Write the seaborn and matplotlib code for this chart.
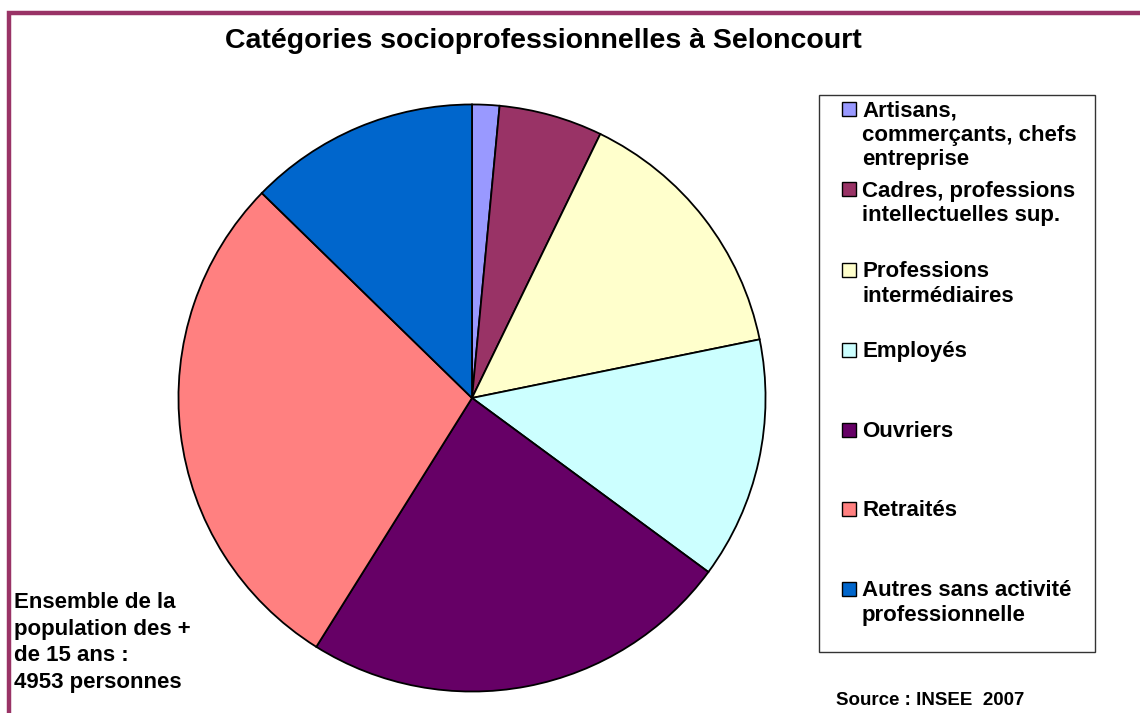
import matplotlib
matplotlib.use("Agg")
import matplotlib.pyplot as plt
from matplotlib.patches import Rectangle
import seaborn as sns

sns.set_theme(style="white")
plt.rcParams['font.family'] = ['Liberation Sans', 'DejaVu Sans']
plt.rcParams['text.color'] = 'black'

categories = [
    "Artisans,\ncommerçants, chefs\nentreprise",
    "Cadres, professions\nintellectuelles sup.",
    "Professions\nintermédiaires",
    "Employés",
    "Ouvriers",
    "Retraités",
    "Autres sans activité\nprofessionnelle",
]
values = [1.5, 5.7, 14.6, 13.3, 23.8, 28.4, 12.7]
colors = ["#9999FF", "#993366", "#FFFFCC", "#CCFFFF", "#660066", "#FF8080", "#0066CC"]
title = "Catégories socioprofessionnelles à Seloncourt"
note = "Ensemble de la\npopulation des +\nde 15 ans :\n4953 personnes"
source = "Source : INSEE  2007"

W, H = 1140, 713
fig = plt.figure(figsize=(W / 100, H / 100), dpi=100)
fig.patch.set_facecolor("white")

def fx(x):
    return x / W

def fy(y):
    return 1 - y / H

# outer frame (maroon)
fig.add_artist(Rectangle((fx(9), fy(760)), fx(1200), 747 / H, transform=fig.transFigure,
                         fill=False, edgecolor="#993366", linewidth=3.2, zorder=0))

cx, cy, r = 472, 398, 295
ax = fig.add_axes([fx(cx - r), fy(cy + r), 2 * r / W, 2 * r / H])
ax.pie(values, colors=colors, startangle=90, counterclock=False,
       wedgeprops=dict(edgecolor="black", linewidth=1.3))
ax.set_xlim(-1.005, 1.005)
ax.set_ylim(-1.005, 1.005)
ax.set_aspect("equal")
ax.axis("off")

fig.text(fx(543), fy(41), title, ha="center", va="center", fontsize=20.5, fontweight="bold")


def multiline(x, y_first_baseline, text, spacing, **kw):
    for k, line in enumerate(text.split("\n")):
        fig.text(fx(x), fy(y_first_baseline + k * spacing), line, ha="left", va="baseline", **kw)


# legend box
fig.add_artist(Rectangle((fx(819), fy(652)), fx(1095 - 819), (652 - 95) / H, transform=fig.transFigure,
                         fill=False, edgecolor="#333333", linewidth=1.0))
square_centers = [109, 189, 269.5, 349.5, 429.5, 508.5, 588.5]
for lab, col, yc in zip(categories, colors, square_centers):
    fig.add_artist(Rectangle((fx(842), fy(yc + 7)), fx(14), 14 / H, transform=fig.transFigure,
                             facecolor=col, edgecolor="black", linewidth=1.0))
    multiline(862, yc + 7.5, lab, 24.5, fontsize=16, fontweight="bold")

multiline(14, 608, note, 26.7, fontsize=16, fontweight="bold")
fig.text(fx(836), fy(705), source, ha="left", va="baseline", fontsize=13.5, fontweight="bold")

fig.savefig("out.png", dpi=100, facecolor="white")
